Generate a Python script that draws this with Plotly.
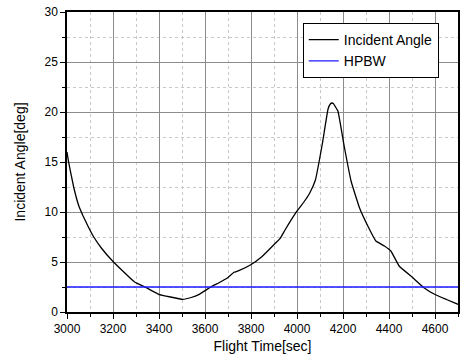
import plotly.graph_objects as go

time_sec = [3000, 3007, 3029, 3050, 3070, 3093, 3115, 3151, 3194, 3240,
            3294, 3345, 3399, 3450, 3503,
            3540, 3575, 3632, 3661, 3700, 3726, 3747, 3797, 3847, 3898, 3927, 3948,
            3998, 4030, 4056, 4080, 4110, 4135, 4145, 4152, 4158, 4165, 4178, 4205,
            4235, 4255, 4272, 4310, 4343, 4380, 4408, 4444, 4500, 4552, 4598, 4650,
            4700]
incident_angle = [16.0, 15.0, 12.5, 10.7, 9.6, 8.5, 7.55, 6.35, 5.2, 4.15,
                  3.0, 2.43, 1.77, 1.5, 1.27,
                  1.45, 1.77, 2.6, 2.93, 3.45, 3.97, 4.13, 4.7, 5.53, 6.7, 7.37, 8.2,
                  10.03, 11.0, 11.93, 13.2, 16.8, 20.3, 20.8, 20.9, 20.85, 20.6, 20.1, 16.6,
                  13.1, 11.6, 10.4, 8.5, 7.1, 6.6, 6.1, 4.6, 3.5, 2.43, 1.77, 1.25,
                  0.77]
hpbw_time = [3000, 4700]
hpbw_value = [2.5, 2.5]

fig = go.Figure()
fig.add_trace(go.Scatter(x=time_sec, y=incident_angle, mode="lines", name="Incident Angle",
                         line=dict(color="black", width=1.3, shape="spline", smoothing=0.3)))
fig.add_trace(go.Scatter(x=hpbw_time, y=hpbw_value, mode="lines", name="HPBW",
                         line=dict(color="#1a1aff", width=1.3)))

font = "Liberation Sans, Arial, sans-serif"
fig.update_layout(
    width=460, height=362,
    margin=dict(l=67, r=0, t=12, b=50),
    paper_bgcolor="white", plot_bgcolor="white",
    font=dict(family=font, size=12, color="black"),
    showlegend=True,
    legend=dict(x=0.603, y=0.963, xanchor="left", yanchor="top",
                bgcolor="white", bordercolor="black", borderwidth=1,
                font=dict(size=14), tracegroupgap=0, itemwidth=30),
    xaxis=dict(range=[3000, 4700], dtick=200, tick0=3000, showgrid=True,
               gridcolor="#8c8c8c", gridwidth=1, ticks="outside", ticklen=5,
               tickcolor="black", showline=True, linecolor="black", linewidth=1.5,
               mirror=True, zeroline=False,
               minor=dict(dtick=100, showgrid=True, gridcolor="#c8c8c8", griddash="dot",
                          ticks="outside", ticklen=3, tickcolor="black"),
               title=dict(text="Flight Time[sec]", font=dict(size=14), standoff=6),
               tickfont=dict(size=12)),
    yaxis=dict(range=[0, 30], dtick=5, showgrid=True, automargin=True,
               gridcolor="#8c8c8c", gridwidth=1, ticks="outside", ticklen=5,
               tickcolor="black", showline=True, linecolor="black", linewidth=1.5,
               mirror=True, zeroline=False,
               minor=dict(dtick=2.5, showgrid=True, gridcolor="#c8c8c8", griddash="dot",
                          ticks="outside", ticklen=3, tickcolor="black"),
               title=dict(text="Incident Angle[deg]", font=dict(size=14), standoff=16),
               tickfont=dict(size=12)),
)

fig.write_html("out.html")
